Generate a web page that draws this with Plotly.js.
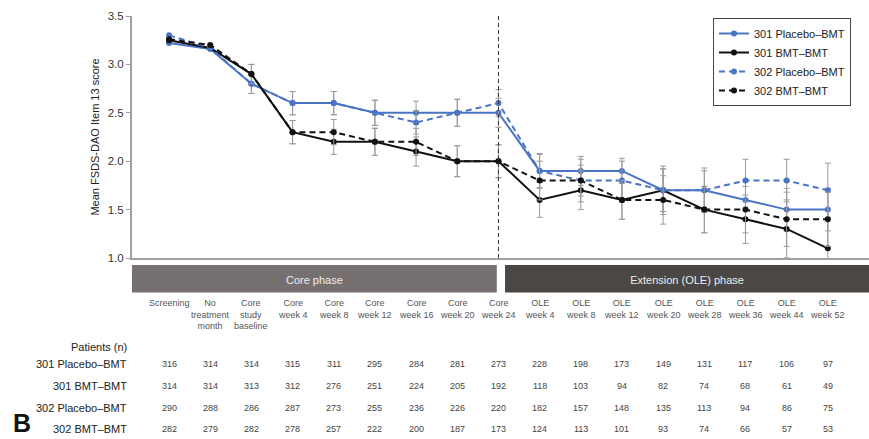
<!DOCTYPE html>
<html>
<head>
<meta charset="utf-8">
<script src="https://cdn.plot.ly/plotly-3.0.1.min.js"></script>
<style>
  html, body { margin: 0; padding: 0; background: #fff; }
  #chart { width: 869px; height: 439px; }
</style>
</head>
<body>
<div id="chart"></div>
<script>
// Visit categories (x axis) and their two-line display labels
const categories = ["Screening", "No treatment month", "Core study baseline",
  "Core week 4", "Core week 8", "Core week 12", "Core week 16", "Core week 20", "Core week 24",
  "OLE week 4", "OLE week 8", "OLE week 12", "OLE week 20", "OLE week 28",
  "OLE week 36", "OLE week 44", "OLE week 52"];
const categoryLabels = ["Screening", "No<br>treatment<br>month", "Core<br>study<br>baseline",
  "Core<br>week 4", "Core<br>week 8", "Core<br>week 12", "Core<br>week 16", "Core<br>week 20", "Core<br>week 24",
  "OLE<br>week 4", "OLE<br>week 8", "OLE<br>week 12", "OLE<br>week 20", "OLE<br>week 28",
  "OLE<br>week 36", "OLE<br>week 44", "OLE<br>week 52"];

// Mean FSDS-DAO Item 13 score per group
const placebo301 = [3.22, 3.16, 2.8, 2.6, 2.6, 2.5, 2.5, 2.5, 2.5, 1.9, 1.9, 1.9, 1.7, 1.7, 1.6, 1.5, 1.5];
const bmt301     = [3.25, 3.17, 2.9, 2.3, 2.2, 2.2, 2.1, 2.0, 2.0, 1.6, 1.7, 1.6, 1.7, 1.5, 1.4, 1.3, 1.1];
const placebo302 = [3.3, 3.17, 2.8, 2.6, 2.6, 2.5, 2.4, 2.5, 2.6, 1.9, 1.8, 1.8, 1.7, 1.7, 1.8, 1.8, 1.7];
const bmt302     = [3.26, 3.2, 2.9, 2.3, 2.3, 2.2, 2.2, 2.0, 2.0, 1.8, 1.8, 1.6, 1.6, 1.5, 1.5, 1.4, 1.4];

// Error bar half-widths
const errPlacebo301 = [0, 0, 0.1, 0.12, 0.12, 0.13, 0.12, 0.14, 0.15, 0.17, 0.15, 0.13, 0.22, 0.2, 0.2, 0.22, 0.22];
const errBmt301     = [0, 0, 0.1, 0.12, 0.13, 0.14, 0.15, 0.16, 0.17, 0.18, 0.2, 0.2, 0.25, 0.24, 0.25, 0.3, 0.3];
const errPlacebo302 = [0, 0, 0.1, 0.12, 0.12, 0.13, 0.12, 0.14, 0.14, 0.18, 0.16, 0.2, 0.22, 0.23, 0.22, 0.22, 0.28];
const errBmt302     = [0, 0, 0.1, 0.12, 0.13, 0.14, 0.14, 0.16, 0.17, 0.2, 0.22, 0.2, 0.25, 0.24, 0.24, 0.28, 0.28];

// Patients (n) at each visit
const groupNames = ["301 Placebo\u2013BMT", "301 BMT\u2013BMT", "302 Placebo\u2013BMT", "302 BMT\u2013BMT"];
const nPlacebo301 = [316, 314, 314, 315, 311, 295, 284, 281, 273, 228, 198, 173, 149, 131, 117, 106, 97];
const nBmt301     = [314, 314, 313, 312, 276, 251, 224, 205, 192, 118, 103, 94, 82, 74, 68, 61, 49];
const nPlacebo302 = [290, 288, 286, 287, 273, 255, 236, 226, 220, 182, 157, 148, 135, 113, 94, 86, 75];
const nBmt302     = [282, 279, 282, 278, 257, 222, 200, 187, 173, 124, 113, 101, 93, 74, 66, 57, 53];

const phaseNames = ["Core phase", "Extension (OLE) phase"];

// ---- styling ----
const BLUE = '#4a74c4';
const BLACK = '#111111';
const FONT = 'Arial, "Liberation Sans", sans-serif';

// plot-area geometry in pixels, used to place the table below the axes
const L = 132, T = 16, W = 737, H = 242;
const px = p => (p - L) / W;
const py = p => (T + H - p) / H;

function series(name, y, err, color, dashed) {
  return {
    type: 'scatter', mode: 'lines+markers', name: name,
    x: categories, y: y,
    line: { color: color, width: 2, dash: dashed ? '6px,4px' : 'solid' },
    marker: { color: color, size: 6 },
    error_y: { type: 'data', array: err, visible: true, color: '#9a9a9a', thickness: 1, width: 3 },
    cliponaxis: true
  };
}

const traces = [
  series(groupNames[0], placebo301, errPlacebo301, BLUE, false),
  series(groupNames[1], bmt301, errBmt301, BLACK, false),
  series(groupNames[2], placebo302, errPlacebo302, BLUE, true),
  series(groupNames[3], bmt302, errBmt302, BLACK, true)
];

const annotations = [];
// visit labels under the phase bands
categoryLabels.forEach((lab, i) => {
  annotations.push({
    xref: 'x', yref: 'paper', x: categories[i], y: py(296),
    yanchor: 'top', xanchor: 'center', showarrow: false,
    text: lab, font: { family: FONT, size: 9, color: '#555' }
  });
});
// patient counts table
const countRows = [nPlacebo301, nBmt301, nPlacebo302, nBmt302];
const rowY = [364, 386, 407.5, 428.5];
countRows.forEach((row, r) => {
  annotations.push({
    xref: 'paper', yref: 'paper', x: px(129), y: py(rowY[r]),
    xanchor: 'right', yanchor: 'middle', showarrow: false,
    text: groupNames[r], font: { family: FONT, size: 11, color: '#222' }
  });
  row.forEach((n, i) => {
    annotations.push({
      xref: 'x', yref: 'paper', x: categories[i], y: py(rowY[r]),
      xanchor: 'center', yanchor: 'middle', showarrow: false,
      text: String(n), font: { family: FONT, size: 9, color: '#444' }
    });
  });
});
annotations.push({
  xref: 'paper', yref: 'paper', x: px(129), y: py(346.5),
  xanchor: 'right', yanchor: 'middle', showarrow: false,
  text: 'Patients (n)', font: { family: FONT, size: 11, color: '#222' }
});
// panel letter
annotations.push({
  xref: 'paper', yref: 'paper', x: px(22), y: py(438),
  xanchor: 'center', yanchor: 'bottom', showarrow: false, borderpad: 0,
  text: '<b>B</b>', font: { family: FONT, size: 25, color: '#111' }
});

const splitIdx = categories.indexOf('Core week 24');
const shapes = [
  // phase bands
  { type: 'rect', xref: 'x', yref: 'paper', x0: -0.9, x1: 7.96, y0: py(292.5), y1: py(265),
    fillcolor: '#767170', line: { width: 0 },
    label: { text: phaseNames[0], font: { family: FONT, size: 11, color: '#eeeeee' } } },
  { type: 'rect', xref: 'x', yref: 'paper', x0: 8.16, x1: 17, y0: py(292.5), y1: py(265),
    fillcolor: '#4a4745', line: { width: 0 },
    label: { text: phaseNames[1], font: { family: FONT, size: 11, color: '#eeeeee' } } },
  // boundary between core and extension phases
  { type: 'line', xref: 'x', yref: 'paper', x0: splitIdx, x1: splitIdx, y0: 0, y1: 1,
    line: { color: '#333', width: 1, dash: '4px,3px' } }
];

const layout = {
  width: 869, height: 439,
  margin: { l: L, r: 0, t: T, b: 439 - T - H, pad: 0 },
  paper_bgcolor: '#fff', plot_bgcolor: '#fff',
  font: { family: FONT, color: '#333' },
  showlegend: true,
  legend: {
    x: px(713), y: py(18), xanchor: 'left', yanchor: 'top',
    bgcolor: '#fff', bordercolor: '#444', borderwidth: 1,
    font: { family: FONT, size: 11, color: '#222' }
  },
  xaxis: {
    type: 'category', categoryorder: 'array', categoryarray: categories,
    range: [-0.9, 17], showticklabels: false, ticks: '',
    showgrid: false, zeroline: false,
    showline: true, linecolor: '#a0a0a0', linewidth: 2
  },
  yaxis: {
    range: [1, 3.5], dtick: 0.5, tick0: 1, tickformat: '.1f',
    ticks: 'outside', ticklen: 4, tickcolor: '#a0a0a0', tickwidth: 1,
    showgrid: false, zeroline: false,
    showline: true, linecolor: '#a0a0a0', linewidth: 2,
    tickfont: { family: FONT, size: 11.5, color: '#333' },
    title: { text: 'Mean FSDS-DAO Item 13 score', standoff: 6,
             font: { family: FONT, size: 11, color: '#222' } }
  },
  shapes: shapes,
  annotations: annotations
};

Plotly.newPlot('chart', traces, layout, { displayModeBar: false, staticPlot: true });
</script>
</body>
</html>
